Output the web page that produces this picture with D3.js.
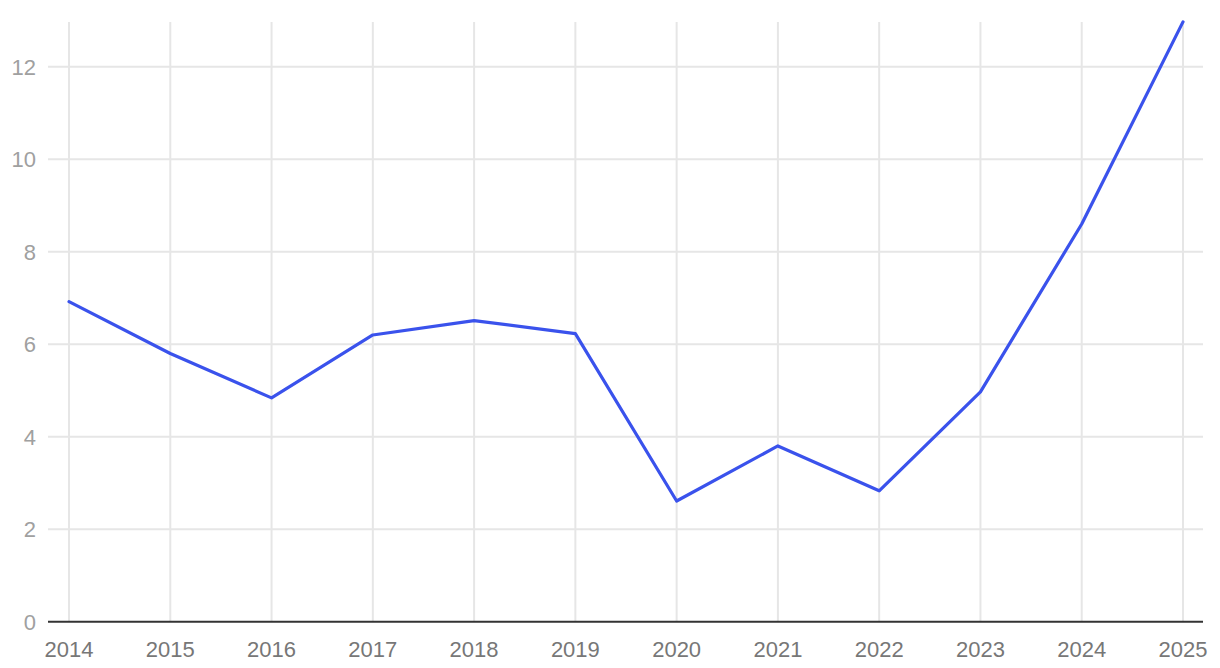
<!DOCTYPE html>
<html><head><meta charset="utf-8">
<script src="https://cdn.jsdelivr.net/npm/d3@7"></script>
<style>body{margin:0;background:#fff}svg{display:block}text{font-family:"Liberation Sans",Arial,Helvetica,sans-serif}</style>
</head><body><svg id="c" width="1220" height="668"></svg>
<script>
const years = [2014,2015,2016,2017,2018,2019,2020,2021,2022,2023,2024,2025];
const values = [6.92,5.8,4.84,6.2,6.51,6.23,2.61,3.8,2.83,4.97,8.6,12.97];
const yTicks = [0,2,4,6,8,10,12];

const svg = d3.select("#c");
const x = d3.scaleLinear().domain([2014,2025]).range([69,1183]);
const y = d3.scaleLinear().domain([0,13]).range([621.7,20.5]);
const left = 48, right = 1203;

// horizontal grid
svg.append("g").selectAll("line").data(yTicks.filter(d=>d>0)).join("line")
  .attr("x1",left).attr("x2",right).attr("y1",d=>y(d)).attr("y2",d=>y(d))
  .attr("stroke","#e6e6e6").attr("stroke-width",2);
// vertical grid
svg.append("g").selectAll("line").data(years).join("line")
  .attr("x1",d=>x(d)).attr("x2",d=>x(d)).attr("y1",22).attr("y2",y(0))
  .attr("stroke","#e6e6e6").attr("stroke-width",2);
// y labels
svg.append("g").selectAll("text").data(yTicks).join("text")
  .attr("x",36).attr("y",d=>y(d)).attr("dy","0.36em").attr("text-anchor","end")
  .attr("font-size",22).attr("fill","#a0a0a0").text(d=>d);
// x labels
svg.append("g").selectAll("text").data(years).join("text")
  .attr("x",d=>x(d)).attr("y",656.5).attr("text-anchor","middle")
  .attr("font-size",22).attr("fill","#777").text(d=>d);
// axis line
svg.append("line").attr("x1",left).attr("x2",right).attr("y1",y(0)).attr("y2",y(0))
  .attr("stroke","#333").attr("stroke-width",2);
// data line
svg.append("path").datum(years.map((yr,i)=>[yr,values[i]]))
  .attr("d",d3.line().x(d=>x(d[0])).y(d=>y(d[1])))
  .attr("fill","none").attr("stroke","#3a52ec").attr("stroke-width",3.2)
  .attr("stroke-linejoin","round").attr("stroke-linecap","round");
</script></body></html>
